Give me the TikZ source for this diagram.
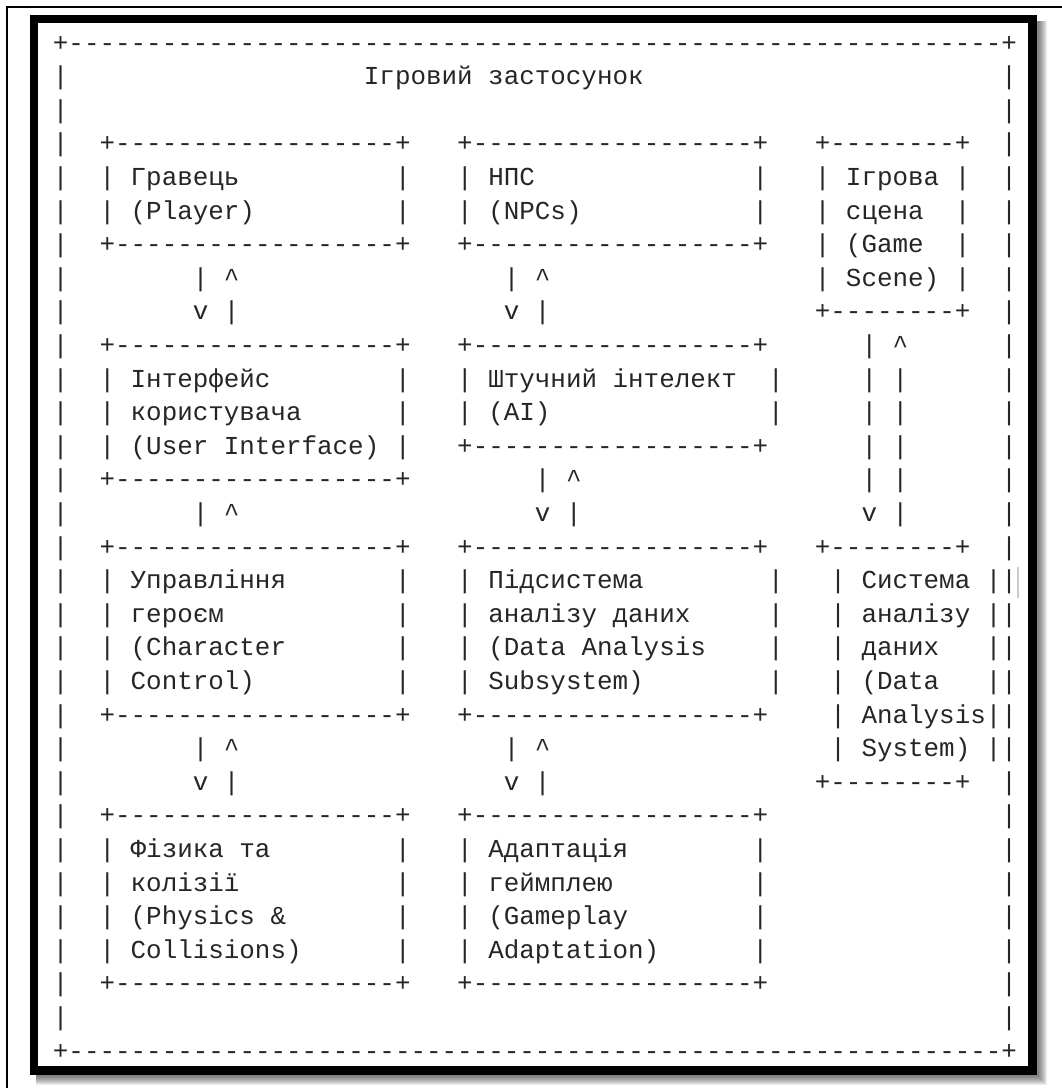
\documentclass[tikz,border=0pt]{standalone}
\usepackage{fontspec}
\newfontfamily\asciifont{Liberation Mono}

\newcommand{\atcell}[3]{\node[asc] (c#1-#2) at (#2-0.5,#1+0.18) {#3};}
\newcommand{\dashrow}[3]{%
  \atcell{#1}{#2}{+}\atcell{#1}{#3}{+}%
  \pgfmathtruncatemacro\dfrom{#2+1}\pgfmathtruncatemacro\dto{#3-1}%
  \foreach \c in {\dfrom,...,\dto}{\atcell{#1}{\c}{-}}}
\newcommand{\sides}[4]{\foreach \r in {#1,...,#2}{\atcell{\r}{#3}{|}\atcell{\r}{#4}{|}}}
\newcommand{\updown}[2]{%
  \pgfmathtruncatemacro\ua{#2+2}\pgfmathtruncatemacro\ub{#1+1}%
  \atcell{#1}{#2}{|}\atcell{#1}{\ua}{\textasciicircum}%
  \atcell{\ub}{#2}{v}\atcell{\ub}{\ua}{|}}

\begin{document}
\begin{tikzpicture}[
  asc/.style={
    font={\asciifont\fontsize{25.9pt}{30pt}\selectfont},
    text=black!85,
    anchor=base west,
    inner sep=0pt
  },
  frame/.style={
    line width=8.3pt,
    fill=white
  },
]
\useasboundingbox (0,0) rectangle (1062pt,-1088pt);
\draw[line width=2.2pt] (7pt,-1090pt) -- (7pt,-7pt) -- (1064pt,-7pt);
\foreach \g in {0,...,8}
  \fill[black,opacity=.07] (36pt,-21pt) rectangle ({(1039+\g)*1pt},{-(1077+\g)*1pt});
\draw[frame] (34.2pt,-19.2pt) rectangle (1032.5pt,-1070.5pt);
\draw[black!20,line width=1.5pt] (1018pt,-567pt) -- (1018pt,-598pt);

\begin{scope}[shift={(60.5pt,-45pt)},x=15.55pt,y=-33.6pt]
\dashrow{0}{0}{61}
\dashrow{30}{0}{61}
\sides{1}{29}{0}{61}
\atcell{1}{20}{Ігровий застосунок}

\dashrow{3}{3}{22} \sides{4}{5}{3}{22} \dashrow{6}{3}{22}
\atcell{4}{5}{Гравець}
\atcell{5}{5}{(Player)}

\dashrow{3}{26}{45} \sides{4}{5}{26}{45} \dashrow{6}{26}{45}
\atcell{4}{28}{НПС}
\atcell{5}{28}{(NPCs)}

\dashrow{3}{49}{58} \sides{4}{7}{49}{58} \dashrow{8}{49}{58}
\atcell{4}{51}{Ігрова}
\atcell{5}{51}{сцена}
\atcell{6}{51}{(Game}
\atcell{7}{51}{Scene)}

\updown{7}{9}
\updown{7}{29}

\dashrow{9}{3}{22} \sides{10}{12}{3}{22} \dashrow{13}{3}{22}
\atcell{10}{5}{Інтерфейс}
\atcell{11}{5}{користувача}
\atcell{12}{5}{(User Interface)}

\dashrow{9}{26}{45} \sides{10}{11}{26}{46} \dashrow{12}{26}{45}
\atcell{10}{28}{Штучний інтелект}
\atcell{11}{28}{(AI)}

\atcell{9}{52}{|}\atcell{9}{54}{\textasciicircum}
\sides{10}{13}{52}{54}
\atcell{14}{52}{v}\atcell{14}{54}{|}

\atcell{14}{9}{|}\atcell{14}{11}{\textasciicircum}
\updown{13}{31}

\dashrow{15}{3}{22} \sides{16}{19}{3}{22} \dashrow{20}{3}{22}
\atcell{16}{5}{Управління}
\atcell{17}{5}{героєм}
\atcell{18}{5}{(Character}
\atcell{19}{5}{Control)}

\dashrow{15}{26}{45} \sides{16}{19}{26}{46} \dashrow{20}{26}{45}
\atcell{16}{28}{Підсистема}
\atcell{17}{28}{аналізу даних}
\atcell{18}{28}{(Data Analysis}
\atcell{19}{28}{Subsystem)}

\dashrow{15}{49}{58} \sides{16}{21}{50}{60} \dashrow{22}{49}{58}
\atcell{16}{52}{Система}
\atcell{17}{52}{аналізу}
\atcell{18}{52}{даних}
\atcell{19}{52}{(Data}
\atcell{20}{52}{Analysis}
\atcell{21}{52}{System)}

\updown{21}{9}
\updown{21}{29}

\dashrow{23}{3}{22} \sides{24}{27}{3}{22} \dashrow{28}{3}{22}
\atcell{24}{5}{Фізика та}
\atcell{25}{5}{колізії}
\atcell{26}{5}{(Physics \&}
\atcell{27}{5}{Collisions)}

\dashrow{23}{26}{45} \sides{24}{27}{26}{45} \dashrow{28}{26}{45}
\atcell{24}{28}{Адаптація}
\atcell{25}{28}{геймплею}
\atcell{26}{28}{(Gameplay}
\atcell{27}{28}{Adaptation)}
\end{scope}
\end{tikzpicture}
\end{document}
